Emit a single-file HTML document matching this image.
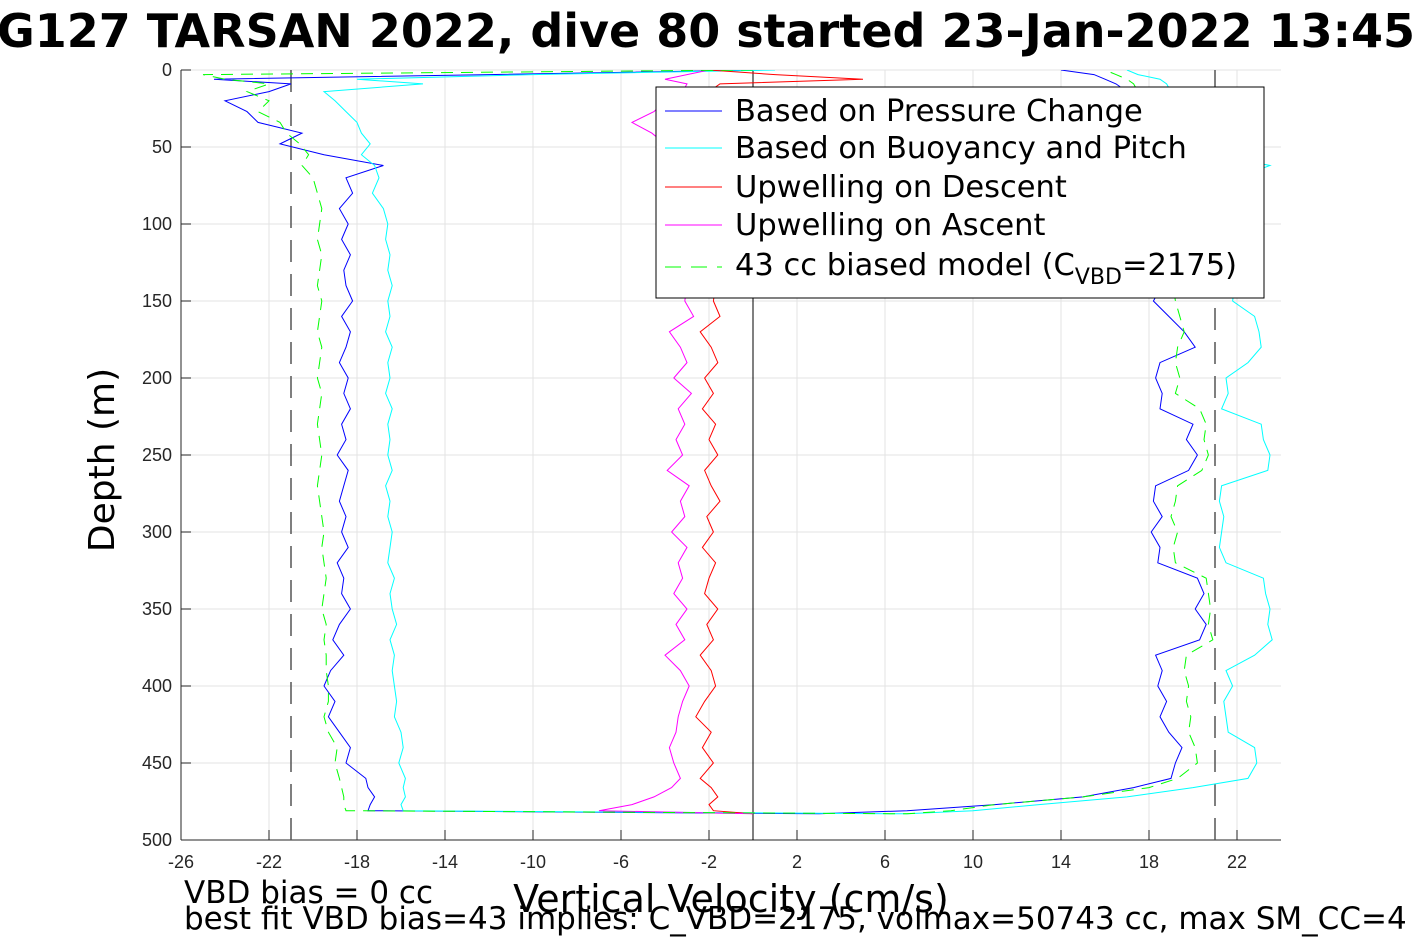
<!DOCTYPE html>
<html><head><meta charset="utf-8"><style>
body{margin:0;background:#fff;overflow:hidden;}
svg{display:block;font-family:"Liberation Sans","DejaVu Sans",sans-serif;}
</style></head><body>
<svg id="chart" width="1417" height="945" viewBox="0 0 1417 945">
<text x="706" y="47" text-anchor="middle" font-size="46" font-weight="bold" font-family="DejaVu Sans, sans-serif">G127 TARSAN 2022, dive 80 started 23-Jan-2022 13:45</text>
<g id="grid"></g>
<g id="axes"></g>
<defs><clipPath id="clip"><rect x="181" y="70" width="1100" height="770"/></clipPath></defs>
<g id="series" clip-path="url(#clip)"></g>
<g>
<rect x="656" y="87" width="608" height="211" fill="#fff" stroke="#000" stroke-width="1"/>
<line x1="665" y1="111" x2="722" y2="111" stroke="#0000ff"/>
<text x="735" y="121" font-size="30.5" font-family="DejaVu Sans, sans-serif">Based on Pressure Change</text>
<line x1="665" y1="148" x2="722" y2="148" stroke="#00ffff"/>
<text x="735" y="158" font-size="30.5" font-family="DejaVu Sans, sans-serif">Based on Buoyancy and Pitch</text>
<line x1="665" y1="187" x2="722" y2="187" stroke="#ff0000"/>
<text x="735" y="197" font-size="30.5" font-family="DejaVu Sans, sans-serif">Upwelling on Descent</text>
<line x1="665" y1="225" x2="722" y2="225" stroke="#ff00ff"/>
<text x="735" y="235" font-size="30.5" font-family="DejaVu Sans, sans-serif">Upwelling on Ascent</text>
<line x1="665" y1="267" x2="722" y2="267" stroke="#00ff00" stroke-dasharray="16,10"/>
<text x="735" y="275" font-size="30.5" font-family="DejaVu Sans, sans-serif">43 cc biased model (C<tspan font-size="22" dy="9">VBD</tspan><tspan dy="-9">=2175)</tspan></text>
</g>
<text x="114" y="460" font-size="36" text-anchor="middle" transform="rotate(-90 114 460)" font-family="DejaVu Sans, sans-serif">Depth (m)</text>
<text x="731" y="912" font-size="38" text-anchor="middle" font-family="DejaVu Sans, sans-serif">Vertical Velocity (cm/s)</text>
<text x="184" y="903" font-size="31" font-family="DejaVu Sans, sans-serif">VBD bias = 0 cc</text>
<text x="184" y="929" font-size="31" font-family="DejaVu Sans, sans-serif">best fit VBD bias=43 implies: C_VBD=2175, volmax=50743 cc, max SM_CC=4</text>
</svg>
<script>
const depths=[0,3,6,9,14,20,27,34,41,48,55,62,70,80,90,100,110,120,130,140,150,160,170,180,190,200,210,220,230,240,250,260,270,280,290,300,310,320,330,340,350,360,370,380,390,400,410,420,430,440,450,460,466,472,477,481,483];
const xTicks=[-26,-22,-18,-14,-10,-6,-2,2,6,10,14,18,22];
const yTicks=[0,50,100,150,200,250,300,350,400,450,500];
const pressureDescent=[0.5,-12,-24.5,-21,-22,-24,-23,-22.5,-20.5,-21.5,-19.5,-16.8,-18.5,-18.2,-18.8,-18.4,-18.7,-18.3,-18.6,-18.5,-18.2,-18.7,-18.3,-18.5,-18.8,-18.4,-18.6,-18.3,-18.7,-18.5,-18.9,-18.4,-18.6,-18.8,-18.5,-18.7,-18.4,-18.9,-18.6,-18.7,-18.3,-18.8,-19.1,-18.6,-19.2,-19.5,-19,-19.3,-18.8,-18.3,-18.5,-17.6,-17.5,-17.2,-17.4,-17.5,3];
const pressureAscent=[14,15.5,16,16.5,17,17.5,18,18.2,18.5,18.3,18.6,18.4,18.5,18.7,18.4,18.6,18.5,18.8,18.3,18.6,18.2,18.9,19.6,20.1,18.5,18.3,18.6,18.5,20,19.7,20.2,19.8,18.3,18.2,18.6,18.1,18.5,18.4,20.2,20.5,20.1,20.6,20.3,18.3,18.6,18.4,18.8,18.5,18.9,19.5,19.2,19,17.3,15,11,7,3];
const buoyDescent=[1,-10,-18,-15,-19.5,-19,-18.5,-18,-17.8,-17.4,-17.8,-17.2,-17,-17.3,-16.8,-16.6,-16.7,-16.5,-16.6,-16.4,-16.6,-16.5,-16.7,-16.4,-16.6,-16.5,-16.7,-16.4,-16.6,-16.5,-16.6,-16.4,-16.7,-16.5,-16.6,-16.4,-16.5,-16.6,-16.3,-16.5,-16.4,-16.2,-16.5,-16.3,-16.4,-16.3,-16.2,-16.3,-16,-15.9,-16.1,-15.8,-15.9,-15.8,-16,-15.9,7];
const buoyAscent=[17,17.5,18.5,18.8,19,19.3,19.5,19.8,20,20.3,21,23.5,22,21.8,22,21.9,22.1,21.8,22,21.9,21.8,22.8,23,23.1,22.5,21.5,21.6,21.3,23.1,23.2,23.5,23.4,21.3,21.2,21.4,21.3,21.2,21.5,23.2,23.3,23.5,23.4,23.6,22.8,21.5,21.8,21.4,21.5,21.6,22.8,22.9,22.5,20,17,13,10,7];
const upwellDescent=[-2,1,5,-1.5,-2,-1.8,-2.2,-1.9,-2.1,-1.8,-2,-2.2,-1.7,-2.1,-1.9,-2.3,-1.8,-2,-2.2,-1.7,-1.8,-1.5,-2.4,-1.9,-1.6,-2.2,-1.8,-2.3,-1.7,-2,-1.6,-2.2,-1.9,-1.5,-2.1,-1.8,-2.3,-1.7,-2,-2.2,-1.6,-2.1,-1.8,-2.4,-1.9,-1.7,-2.2,-2.6,-1.9,-2.3,-1.8,-2.4,-1.9,-1.6,-2,-1.8,0];
const upwellAscent=[-2,-3,-4,-3,-3.2,-4,-4.5,-5.5,-4.6,-4,-3.5,-3.2,-3,-3.3,-2.9,-3.1,-3.4,-2.8,-3.2,-3,-3.1,-2.7,-3.8,-3.3,-3,-3.6,-2.8,-3.4,-3.1,-3.5,-3.2,-3.9,-2.9,-3.3,-3.1,-3.7,-3,-3.4,-3.2,-3.6,-3,-3.5,-3.1,-4,-3.3,-2.9,-3.2,-3.4,-3.5,-3.8,-3.6,-3.3,-3.7,-4.5,-5.5,-7,0];
const modelDescent=[0,-25,-24,-22,-23,-22,-22.5,-21.5,-21.2,-20.6,-20.2,-20.5,-20,-19.8,-19.6,-19.7,-19.8,-19.6,-19.7,-19.8,-19.6,-19.7,-19.8,-19.6,-19.7,-19.8,-19.6,-19.7,-19.8,-19.7,-19.6,-19.7,-19.8,-19.7,-19.6,-19.5,-19.6,-19.5,-19.4,-19.5,-19.6,-19.4,-19.5,-19.4,-19.4,-19.3,-19.3,-19.5,-19.3,-18.9,-19,-18.8,-18.7,-18.6,-18.6,-18.5,7];
const modelAscent=[16,16.5,17,17.3,17.5,17.8,18,18.2,18.4,18.5,18.7,18.8,18.9,19,19.1,19,19.2,19.1,19.2,19.1,19.2,19.4,19.6,19.3,19.2,19.4,19.2,20.3,20.6,20.5,20.7,20.4,19.3,19.2,19,19.3,19.1,19.2,20.6,20.7,20.8,20.7,20.9,19.7,19.6,19.8,19.7,19.9,19.8,20.1,20.2,19.3,18,15,11,9,7];
const targetVel=[-21,21];

const X0=181,X1=1281,Y0=70,Y1=840,XMIN=-26,XMAX=24,DMAX=500;
const sx=v=>X0+(v-XMIN)/(XMAX-XMIN)*(X1-X0);
const sy=d=>Y0+d/DMAX*(Y1-Y0);
const NS='http://www.w3.org/2000/svg';
function mk(tag,attrs,parent){const e=document.createElementNS(NS,tag);for(const k in attrs)e.setAttribute(k,attrs[k]);parent.appendChild(e);return e;}
const grid=document.getElementById('grid'),axes=document.getElementById('axes'),ser=document.getElementById('series');
xTicks.forEach(t=>{
  const l=mk('line',{x1:sx(t),x2:sx(t),y1:Y0,y2:Y1,stroke:'#e3e3e3','stroke-width':1},grid);
  
  
  const tk=mk('line',{x1:sx(t),x2:sx(t),y1:Y1,y2:Y1-10,stroke:'#262626'},axes);
  
  
  const tx=mk('text',{x:sx(t),y:Y1+28,'text-anchor':'middle','font-size':18,fill:'#262626'},axes);
  
  
  tx.textContent=t;
});
yTicks.forEach(t=>{
  const l=mk('line',{x1:X0,x2:X1,y1:sy(t),y2:sy(t),stroke:'#e3e3e3','stroke-width':1},grid);
  
  
  const tk=mk('line',{x1:X0,x2:X0+10,y1:sy(t),y2:sy(t),stroke:'#262626'},axes);
  
  
  const tx=mk('text',{x:X0-9,y:sy(t)+6,'text-anchor':'end','font-size':18,fill:'#262626'},axes);
  
  
  tx.textContent=t;
});
const ax1=mk('line',{x1:X0,x2:X0,y1:Y0,y2:Y1,stroke:'#262626'},axes);


const ax2=mk('line',{x1:X0,x2:X1,y1:Y1,y2:Y1,stroke:'#262626'},axes);


const zl=mk('line',{x1:sx(0),x2:sx(0),y1:Y0,y2:Y1,stroke:'#000'},ser);


targetVel.forEach(v=>{
  const l=mk('line',{x1:sx(v),x2:sx(v),y1:Y0,y2:Y1,stroke:'#555','stroke-width':1.5,'stroke-dasharray':'22,12'},ser);
  
  
});
function pts(vals){return vals.map((v,i)=>sx(v).toFixed(1)+','+sy(depths[i]).toFixed(1));}
function draw(desc,asc,color,name,dash){
  let p=pts(desc);
  if(asc)p=p.concat(pts(asc).reverse());
  const a={points:p.join(' '),fill:'none',stroke:color,'stroke-width':1};
  if(dash)a['stroke-dasharray']=dash;
  const pl=mk('polyline',a,ser);
  
  
}
draw(pressureDescent,pressureAscent,'#0000ff','pressure-velocity-line');
draw(buoyDescent,buoyAscent,'#00ffff','buoyancy-velocity-line');
draw(upwellDescent,null,'#ff0000','upwelling-descent-line');
draw(upwellAscent,null,'#ff00ff','upwelling-ascent-line');
draw(modelDescent,modelAscent,'#00ff00','biased-model-line','12,8');
</script>
</body></html>
